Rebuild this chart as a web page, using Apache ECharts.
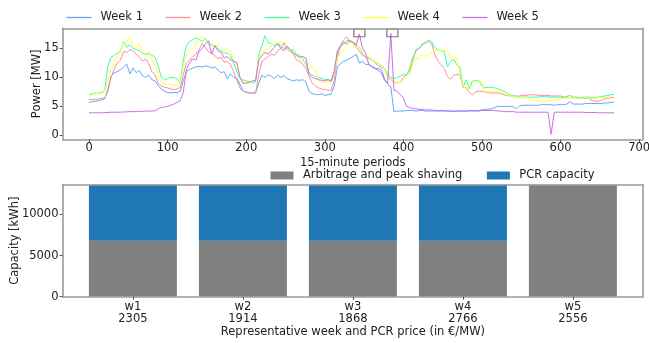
<!DOCTYPE html>
<html>
<head>
<meta charset="utf-8">
<script src="https://cdn.jsdelivr.net/npm/echarts@6/dist/echarts.min.js"></script>
<style>
html,body{margin:0;padding:0;background:#fff;}
#c{width:649px;height:343px;}
</style>
</head>
<body>
<div id="c"></div>
<script>
// ---- Data ----
const weekNames = ['Week 1', 'Week 2', 'Week 3', 'Week 4', 'Week 5'];
const periods = [
0,4,8,12,16,20,24,28,32,36,
40,44,48,52,56,60,64,68,72,76,
80,84,88,92,96,100,104,108,112,116,
120,124,128,132,136,140,144,148,152,156,
160,164,168,172,176,180,184,188,192,196,
200,204,208,212,216,220,224,228,232,236,
240,244,248,252,256,260,264,268,272,276,
280,284,288,292,296,300,304,308,312,316,
320,324,328,332,336,340,344,348,352,356,
360,364,368,372,376,380,384,388,392,396,
400,404,408,412,416,420,424,428,432,436,
440,444,448,452,456,460,464,468,472,476,
480,484,488,492,496,500,504,508,512,516,
520,524,528,532,536,540,544,548,552,556,
560,564,568,572,576,580,584,588,592,596,
600,604,608,612,616,620,624,628,632,636,
640,644,648,652,656,660,664,668];

const week1 = [
5.7,5.8,5.9,6.0,6.1,6.3,8.0,10.2,10.8,11.0,
11.3,11.8,12.3,10.6,11.6,10.8,11.2,10.3,10.0,10.4,
9.6,9.4,8.6,8.0,7.6,7.4,7.3,7.4,7.4,7.6,
9.5,11.0,11.4,11.6,11.8,11.9,11.8,12.0,11.9,11.6,
11.8,11.3,10.8,11.0,9.8,10.6,10.0,9.9,8.8,7.7,
7.4,7.3,7.3,7.4,9.0,10.4,10.0,10.5,10.2,9.8,
10.4,10.0,10.3,9.8,9.6,9.4,9.6,9.5,9.6,9.2,
7.6,7.2,7.1,7.0,7.2,6.9,7.0,7.1,8.5,11.8,
12.4,12.8,13.0,13.3,13.6,14.0,12.5,12.8,12.2,12.3,
11.9,11.6,11.5,11.4,9.8,8.8,8.4,4.1,4.2,4.2,
4.2,4.3,4.3,4.3,4.2,4.3,4.3,4.2,4.2,4.2,
4.2,4.2,4.2,4.2,4.2,4.2,4.1,4.2,4.2,4.2,
4.2,4.3,4.3,4.3,4.3,4.4,4.5,4.5,4.6,4.8,
5.0,5.0,5.0,5.0,5.0,4.9,4.6,5.1,5.2,5.2,
5.2,5.2,5.2,5.2,5.3,5.3,5.3,5.3,5.2,5.3,
5.3,5.3,5.4,5.8,5.4,5.4,5.4,5.4,5.5,5.5,
5.5,5.5,5.5,5.5,5.6,5.6,5.7,5.7];

const week2 = [
6.2,6.2,6.2,6.3,6.4,6.5,7.5,10.0,11.5,12.5,
13.0,14.5,14.3,14.8,14.6,14.0,13.5,12.8,13.2,12.4,
11.0,10.5,9.0,8.5,8.3,8.2,8.0,7.9,8.0,8.3,
10.5,12.5,13.0,13.6,14.0,14.8,15.8,15.2,14.4,14.2,
13.8,13.2,13.5,12.6,12.8,12.2,11.0,9.5,8.2,7.6,
7.5,7.4,7.3,7.3,10.5,12.8,13.2,13.6,14.0,13.8,
14.6,15.0,16.0,14.8,14.5,14.0,13.0,12.8,12.2,11.5,
10.2,9.0,8.5,8.2,8.0,7.9,7.8,7.8,9.5,13.5,
15.5,16.5,17.0,16.2,16.0,15.2,14.5,13.8,13.6,13.4,
13.0,12.5,12.0,11.8,11.5,10.2,9.6,9.2,9.0,9.2,
10.0,10.5,11.0,13.0,14.8,15.0,15.5,16.0,16.2,15.8,
14.0,12.8,12.2,11.5,10.2,9.7,10.4,10.5,10.4,8.3,
8.2,7.4,7.0,7.5,7.6,7.6,7.5,7.4,7.3,7.3,
7.3,7.2,7.0,6.9,6.8,6.8,6.8,6.8,6.9,6.9,
7.0,7.0,7.0,6.9,6.9,6.9,6.9,6.8,6.8,6.8,
6.8,6.6,6.5,6.5,6.5,6.5,6.5,6.4,6.4,6.4,
6.0,5.9,5.9,6.0,6.3,6.4,6.5,6.5];

const week3 = [
7.0,7.2,7.3,7.3,7.4,7.8,12.0,13.5,13.8,14.2,
14.5,16.2,15.2,15.6,15.0,14.8,14.6,14.2,14.0,14.0,
13.8,13.5,12.0,10.0,9.6,9.8,10.0,10.0,9.8,9.0,
13.0,15.5,16.2,16.5,16.8,16.6,16.2,16.8,15.8,15.6,
15.4,15.0,14.6,14.2,14.2,13.8,12.5,11.0,9.8,9.6,
9.4,9.3,9.0,9.2,14.0,15.5,17.2,16.0,15.8,15.5,
16.0,15.4,15.0,15.2,14.6,14.8,14.0,13.8,13.2,12.2,
10.8,10.4,10.2,10.0,9.8,9.7,9.6,9.5,11.0,14.5,
15.2,15.8,16.4,16.2,16.0,15.6,15.2,14.0,13.4,13.2,
13.0,12.6,12.4,12.0,11.5,10.5,10.0,9.8,10.0,10.2,
10.5,10.4,11.5,13.5,14.5,15.0,15.8,16.0,16.4,16.2,
15.2,14.8,14.6,14.4,11.8,12.8,13.1,12.2,11.8,8.4,
9.6,8.0,9.4,9.4,9.5,8.5,8.2,8.3,8.3,8.2,
8.1,7.8,7.6,7.3,7.0,6.8,6.7,6.6,6.6,6.6,
6.6,6.6,6.6,6.6,6.7,6.7,6.6,6.6,6.6,6.6,
6.6,6.6,6.7,6.9,6.6,6.6,6.5,6.6,6.6,6.6,
6.5,6.5,6.6,6.7,6.8,6.9,7.0,7.1];

const week4 = [
6.8,7.0,7.2,7.2,7.3,7.5,9.5,11.5,12.5,13.5,
14.5,16.0,16.2,17.0,15.5,15.2,15.8,14.6,14.0,14.5,
13.2,12.0,10.5,9.2,8.9,8.8,8.8,8.7,8.6,8.8,
12.0,14.0,14.5,15.0,15.5,16.8,17.0,16.5,16.0,15.8,
15.5,15.6,15.0,14.6,15.2,14.5,13.0,12.0,10.0,9.4,
9.2,9.0,9.3,9.6,13.5,14.2,14.8,15.0,15.5,16.0,
15.8,16.2,15.5,15.0,14.6,14.2,13.5,13.2,12.8,12.8,
12.5,11.5,11.3,9.4,9.2,9.1,9.2,9.0,10.5,13.5,
14.2,14.8,15.5,15.8,16.2,16.0,15.0,14.2,13.6,13.2,
13.0,12.6,12.4,12.0,11.5,10.0,9.5,9.3,9.0,9.2,
9.6,10.0,10.5,12.5,13.4,13.2,14.0,13.6,13.8,14.4,
14.6,14.7,14.6,14.6,14.5,13.4,13.5,13.4,10.5,8.5,
7.9,9.0,9.4,9.3,9.2,9.3,7.4,7.6,7.6,7.6,
7.6,7.5,7.3,7.0,6.8,6.7,6.6,6.6,6.5,6.5,
6.4,6.2,6.0,5.9,5.9,5.9,5.9,6.0,6.1,6.2,
6.3,6.4,6.5,6.5,6.5,6.4,6.4,6.4,6.5,6.4,
6.4,6.4,6.5,6.5,6.5,6.6,6.7,6.8];

const week5 = [
3.9,3.9,3.9,3.9,3.9,3.95,3.95,4.0,4.0,4.0,
4.0,4.05,4.05,4.1,4.1,4.1,4.15,4.15,4.2,4.2,
4.2,4.25,4.6,4.8,4.9,5.0,5.2,5.4,5.7,6.0,
7.5,11.5,12.5,13.2,13.0,14.5,15.0,15.8,16.3,14.0,
15.5,14.6,14.3,13.4,13.6,13.0,12.8,12.6,10.0,9.0,
9.0,9.2,9.4,9.5,13.0,13.8,14.3,14.0,14.6,15.2,
15.8,15.0,14.6,15.4,14.8,14.2,13.8,13.5,13.6,13.3,
10.5,10.0,9.8,9.6,9.5,9.4,9.6,9.3,11.0,14.5,
15.5,16.0,15.8,16.4,16.0,15.6,17.5,15.0,14.2,12.2,
11.8,11.5,11.2,10.8,9.5,9.0,17.6,7.8,7.6,7.0,
6.5,5.0,4.8,4.6,4.6,4.5,4.5,4.4,4.4,4.4,
4.3,4.3,4.3,4.3,4.2,4.2,4.2,4.2,4.2,4.2,
4.2,4.2,4.2,4.2,4.2,4.3,4.3,4.3,4.3,4.3,
4.2,4.2,4.1,4.1,4.1,4.1,4.0,4.0,4.0,4.0,
4.0,4.0,4.0,4.0,4.0,4.0,4.0,0.2,4.0,4.0,
4.0,4.0,4.0,4.0,4.0,4.0,4.0,4.0,3.95,3.95,
3.95,3.95,3.9,3.9,3.9,3.9,3.9,3.9];

// annotation boxes at the week-5 peaks [period, MW]
const peakBoxes = [[344, 17.7], [386, 17.7]];

// tick values
const periodTicks = [0, 100, 200, 300, 400, 500, 600, 700];
const powerTicks = [0, 5, 10, 15];
const capacityTicks = [0, 5000, 10000];

// bottom chart
const weekLabels = ['w1', 'w2', 'w3', 'w4', 'w5'];
const pcrPrices = [2305, 1914, 1868, 2766, 2556];
const barNames = ['Arbitrage and peak shaving', 'PCR capacity'];
const arbitrageCap = [6800, 6800, 6800, 6800, 13600];
const pcrCap = [6800, 6800, 6800, 6800, 0];
const capacityMax = 13600;

// ---- Chart ----
const weekData = [week1, week2, week3, week4, week5];
const weekColors = ['#5fa8ff', '#ff8f8f', '#3dff9a', '#ffff3d', '#cc6ee6'];
const FONT = 'DejaVu Sans';
const FS = 11.5;
const TXT = '#222';
const SPINE = { color: '#9a9a9a', width: 1.6 };
const TICK = { color: '#555', width: 1 };
const NAME_STYLE = { fontFamily: FONT, fontSize: FS, color: TXT };
const plain = v => String(v);

const chart = echarts.init(document.getElementById('c'), null, { renderer: 'canvas' });

function frameAxis(gridIndex, position) {
  return {
    gridIndex, position, type: 'value', min: 0, max: 1, z: 5,
    axisLine: { show: true, onZero: false, lineStyle: SPINE },
    axisTick: { show: false }, axisLabel: { show: false }, splitLine: { show: false }
  };
}

const lineSeries = weekData.map((vals, k) => ({
  name: weekNames[k], type: 'line', xAxisIndex: 0, yAxisIndex: 0,
  symbol: 'none', showSymbol: false,
  lineStyle: { width: 1, color: weekColors[k] },
  itemStyle: { color: weekColors[k] },
  data: periods.map((p, i) => [p, vals[i]]),
  z: 2 + k * 0.01
}));

// bottom frame: 62.5 .. 643 ; bars on a category grid inset by 0.14 category on each side
const option = {
  animation: false,
  backgroundColor: '#fff',
  textStyle: { fontFamily: FONT, color: TXT, fontSize: FS },
  grid: [
    { left: 62.7, right: 6.3, top: 28.3, height: 111, outerBoundsMode: 'none' },
    { left: 62.5, right: 6, top: 184.7, height: 112, outerBoundsMode: 'none' },
    { left: 77.9, right: 21.1, top: 184.7, height: 112, outerBoundsMode: 'none' }
  ],
  legend: [
    {
      data: weekNames, left: 66.5, top: 11.5, padding: 0, icon: 'rect',
      itemWidth: 25, itemHeight: 1.3, itemGap: 22.5,
      textStyle: { fontFamily: FONT, fontSize: FS, color: TXT, padding: [0, 0, 0, 4] }
    },
    {
      data: barNames, left: 270.5, top: 169.5, padding: 0, icon: 'rect',
      itemWidth: 23, itemHeight: 8, itemGap: 24.5,
      textStyle: { fontFamily: FONT, fontSize: FS, color: TXT, padding: [0, 0, 0, 4.5] }
    }
  ],
  xAxis: [
    {
      gridIndex: 0, type: 'value', min: -33.55, max: 704.55, z: 5,
      axisLine: { show: true, onZero: false, lineStyle: SPINE },
      axisTick: { show: true, length: 3, customValues: periodTicks, lineStyle: TICK },
      axisLabel: { customValues: periodTicks, margin: 3, formatter: plain, fontFamily: FONT, fontSize: FS, color: TXT },
      splitLine: { show: false },
      name: '15-minute periods', nameLocation: 'middle', nameGap: 17.5, nameMoveOverlap: false,
      nameTextStyle: NAME_STYLE
    },
    frameAxis(0, 'top'),
    frameAxis(1, 'bottom'),
    frameAxis(1, 'top'),
    {
      gridIndex: 2, type: 'category', data: weekLabels, z: 5,
      axisLine: { show: false },
      axisTick: { show: true, length: 3, alignWithLabel: true, lineStyle: TICK },
      axisLabel: {
        margin: 4, fontFamily: FONT, fontSize: FS, color: TXT, lineHeight: 12.5,
        formatter: (v, i) => v + '\n' + pcrPrices[i]
      },
      splitLine: { show: false },
      name: 'Representative week and PCR price (in €/MW)', nameLocation: 'middle', nameGap: 29.5, nameMoveOverlap: false,
      nameTextStyle: NAME_STYLE
    }
  ],
  yAxis: [
    {
      gridIndex: 0, type: 'value', min: -0.67, max: 18.47, z: 5,
      axisLine: { show: true, onZero: false, lineStyle: SPINE },
      axisTick: { show: true, length: 3, customValues: powerTicks, lineStyle: TICK },
      axisLabel: { customValues: powerTicks, margin: 4, formatter: plain, fontFamily: FONT, fontSize: FS, color: TXT },
      splitLine: { show: false },
      name: 'Power [MW]', nameLocation: 'middle', nameGap: 19.5, nameMoveOverlap: false,
      nameTextStyle: NAME_STYLE
    },
    frameAxis(0, 'right'),
    {
      gridIndex: 1, type: 'value', min: 0, max: capacityMax, z: 5,
      axisLine: { show: true, onZero: false, lineStyle: SPINE },
      axisTick: { show: true, length: 3, customValues: capacityTicks, lineStyle: TICK },
      axisLabel: { customValues: capacityTicks, margin: 4, formatter: plain, fontFamily: FONT, fontSize: FS, color: TXT },
      splitLine: { show: false },
      name: 'Capacity [kWh]', nameLocation: 'middle', nameGap: 41, nameMoveOverlap: false,
      nameTextStyle: NAME_STYLE
    },
    frameAxis(1, 'right'),
    {
      gridIndex: 2, type: 'value', min: 0, max: capacityMax, show: false,
      splitLine: { show: false }
    }
  ],
  series: [
    ...lineSeries,
    {
      name: 'peaks', type: 'scatter', xAxisIndex: 0, yAxisIndex: 0,
      symbol: 'rect', symbolSize: [11, 8], z: 4,
      itemStyle: { color: 'rgba(0,0,0,0)', borderColor: '#555', borderWidth: 1 },
      data: peakBoxes, silent: true
    },
    {
      name: barNames[0], type: 'bar', xAxisIndex: 4, yAxisIndex: 4, stack: 'cap',
      barWidth: '80%', itemStyle: { color: '#808080' },
      data: arbitrageCap
    },
    {
      name: barNames[1], type: 'bar', xAxisIndex: 4, yAxisIndex: 4, stack: 'cap',
      barWidth: '80%', itemStyle: { color: '#1f77b4' },
      data: pcrCap
    }
  ]
};
chart.setOption(option);
</script>
</body>
</html>
